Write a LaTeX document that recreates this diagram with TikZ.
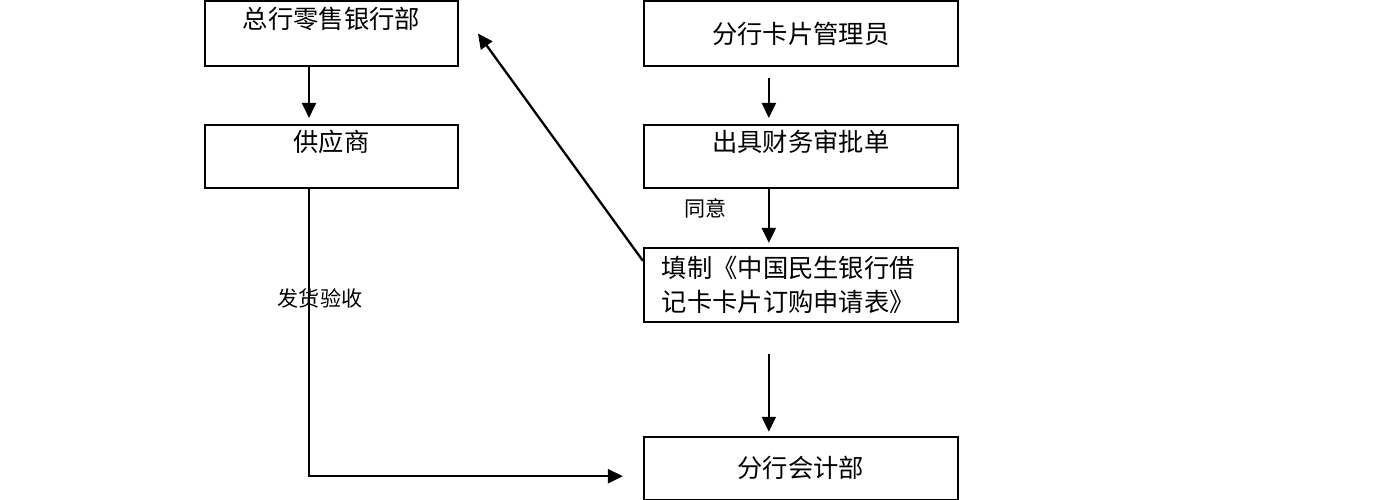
\documentclass[tikz,border=0pt]{standalone}
\usepackage{fontspec}
\newfontfamily\cjk{Noto Sans CJK SC}
\usetikzlibrary{positioning, arrows.meta}

\begin{document}
\begin{tikzpicture}[
        x=0.02cm, y=-0.02cm,
        node distance=1.14cm and 3.68cm,
        font=\cjk\fontsize{14.4}{19.3}\selectfont,
        box/.style={rectangle, draw=black, line width=1.1pt, inner sep=0pt, minimum height=1.26cm},
        narrowbox/.style={box, minimum width=5.06cm},
        widebox/.style={box, minimum width=6.28cm},
        raised/.style={text height=0.88em, text depth=0.5cm},
        arrow/.style={-{Triangle[length=0.3cm, width=0.28cm]}, line width=1.3pt},
        note/.style={font=\cjk\fontsize{12}{14}\selectfont}
        ]

        \useasboundingbox (0,0) rectangle (1387,500);

        \node[narrowbox, raised, minimum height=1.3cm] (zonghang) at (331.5,33.5) {总行零售银行部};
        \node[narrowbox, raised, below=of zonghang] (gongying) {供应商};
        \node[widebox, minimum height=1.3cm, right=of zonghang] (kapian) {分行卡片管理员};
        \node[widebox, raised, below=of kapian] (shenpi) {出具财务审批单};
        \node[widebox, below=1.16cm of shenpi, minimum height=1.48cm, text width=5.56cm, inner xsep=0.36cm, align=left] (shenqing) {填制《中国民生银行借\\记卡卡片订购申请表》};
        \node[widebox, below=2.26cm of shenqing] (kuaiji) {分行会计部};
        \coordinate (fankui) at ([xshift=0.38cm]zonghang.east);

        \draw[arrow, shorten >=0.12cm] ([xshift=-0.45cm]zonghang.south) -- ([xshift=-0.45cm]gongying.north);
        \draw[arrow, shorten <=0.22cm, shorten >=0.12cm] ([xshift=-0.64cm]kapian.south) -- ([xshift=-0.64cm]shenpi.north);
        \draw[arrow, shorten >=0.08cm] ([xshift=-0.64cm]shenpi.south) -- node[note, pos=0.33, xshift=-1.26cm] (tongyi) {同意} ([xshift=-0.64cm]shenqing.north);
        \draw[arrow, shorten <=0.62cm, shorten >=0.08cm] ([xshift=-0.64cm]shenqing.south) -- ([xshift=-0.64cm]kuaiji.north);
        \draw[arrow] ([yshift=0.48cm]shenqing.west) -- (fankui);
        \draw[arrow, shorten >=0.4cm] ([xshift=-0.45cm]gongying.south) |- node[note, pos=0.19, xshift=0.22cm] (fahuo) {发货验收} ([yshift=-0.16cm]kuaiji.west);
    \end{tikzpicture}
\end{document}
